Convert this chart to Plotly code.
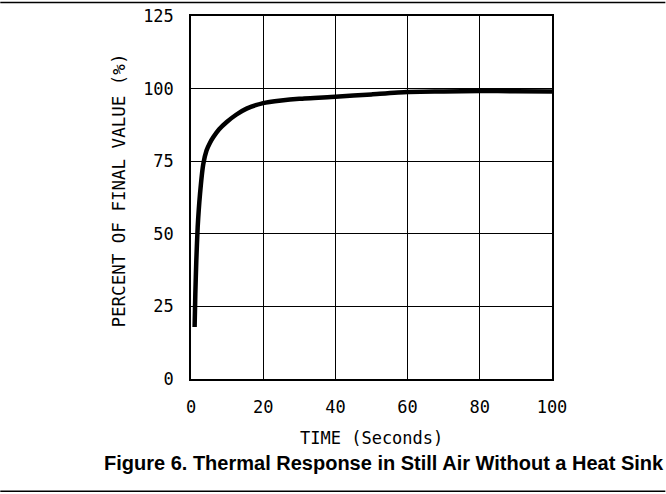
import plotly.graph_objects as go

time_s = [1.0, 1.2, 1.47, 1.85, 2.5, 3.4, 4.3, 5.2, 6.2, 7.8, 9.9, 12.5, 15.4, 20, 25, 30, 40, 50, 60, 70, 80, 90, 100]
percent = [17.9, 29.4, 40.8, 52.3, 63.8, 74.0, 78.7, 81.2, 83.3, 86.0, 88.5, 91.0, 93.1, 95.0, 95.9, 96.5, 97.2, 98.0, 98.8, 99.0, 99.2, 99.1, 99.0]
x_ticks = [0, 20, 40, 60, 80, 100]
y_ticks = [0, 25, 50, 75, 100, 125]

W, H = 666, 494
L, R, T, B = 191, 552.5, 15.5, 378.7
pw, ph = R - L, B - T

def px(x):
    return (x - L) / pw

def py(y):
    return (B - y) / ph

PLOT_FONT = "DejaVu Sans Mono"

fig = go.Figure()
fig.add_trace(go.Scatter(x=time_s, y=percent, mode="lines",
                         line=dict(color="black", width=4.5, shape="spline", smoothing=0.6),
                         hoverinfo="skip", showlegend=False))

axis_common = dict(showgrid=True, gridcolor="black", gridwidth=1.3,
                   showline=True, linecolor="black", linewidth=1.5, mirror=True,
                   zeroline=False, ticks="", color="black", automargin=False,
                   tickfont=dict(family=PLOT_FONT, size=17, color="black"))

fig.update_xaxes(range=[0, 100], tickvals=x_ticks, ticklabelstandoff=12, **axis_common)
fig.update_yaxes(range=[0, 125], tickvals=y_ticks, ticklabelstandoff=12, **axis_common)

fig.add_annotation(x=px(372), y=py(438), xref="paper", yref="paper",
                   xanchor="center", yanchor="middle",
                   text="TIME (Seconds)", showarrow=False,
                   font=dict(family=PLOT_FONT, size=17, color="black"))
fig.add_annotation(x=px(119), y=py(190), xref="paper", yref="paper",
                   xanchor="center", yanchor="middle",
                   text="PERCENT OF FINAL VALUE (%)", showarrow=False, textangle=-90,
                   font=dict(family=PLOT_FONT, size=17.5, color="black"))
fig.add_annotation(x=px(384), y=py(463), xref="paper", yref="paper",
                   xanchor="center", yanchor="middle",
                   text="<b>Figure 6. Thermal Response in Still Air Without a Heat Sink</b>",
                   showarrow=False,
                   font=dict(family="Liberation Sans", size=20, color="black"))

for yy in (2, 491):
    fig.add_shape(type="line", xref="paper", yref="paper",
                  x0=px(0), x1=px(666), y0=py(yy), y1=py(yy),
                  line=dict(color="black", width=1.5))

fig.update_layout(width=W, height=H,
                  margin=dict(l=L, r=W - R, t=T, b=H - B, pad=0, autoexpand=False),
                  paper_bgcolor="white", plot_bgcolor="white",
                  showlegend=False)

fig.write_html("out.html", config={"displayModeBar": False},
               post_script="document.body.style.margin='0';document.body.style.overflow='hidden';")
